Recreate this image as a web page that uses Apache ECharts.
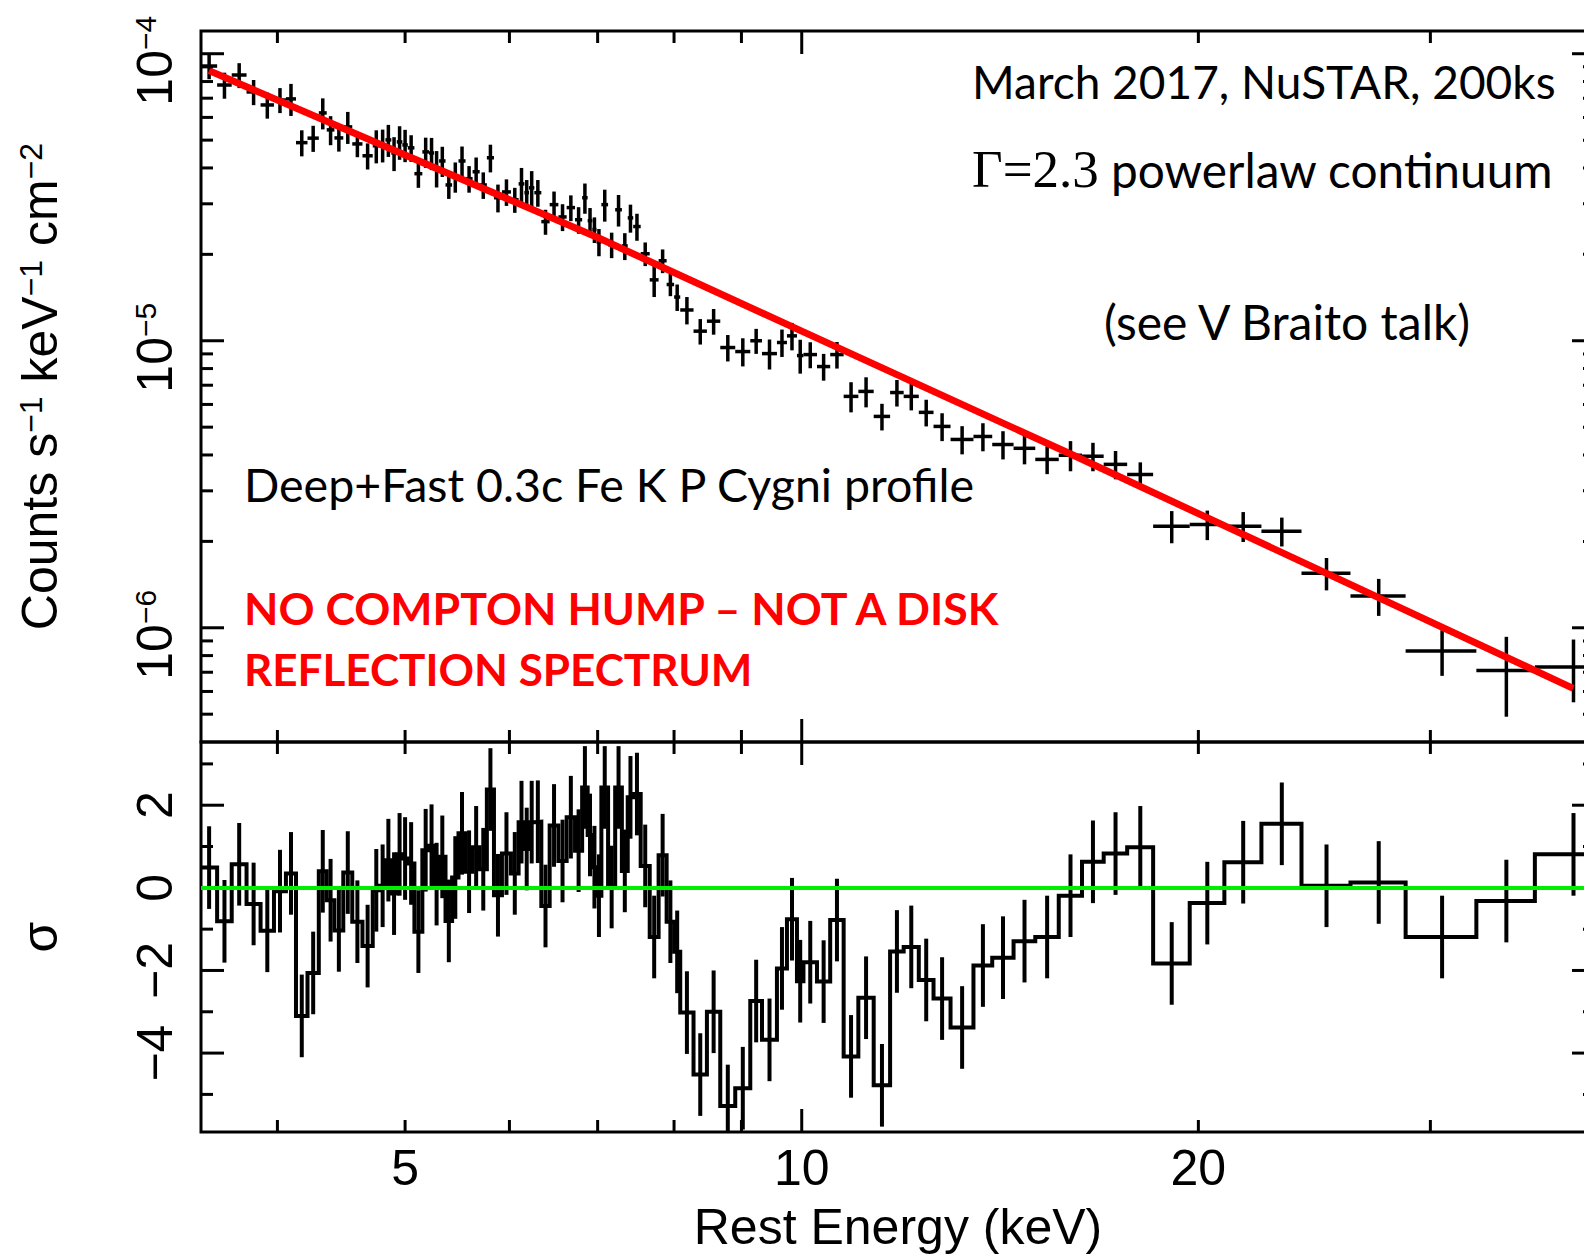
<!DOCTYPE html>
<html>
<head>
<meta charset="utf-8">
<script src="https://cdn.jsdelivr.net/npm/echarts@6/dist/echarts.min.js"></script>
<style>
html, body { margin: 0; padding: 0; background: #fff; }
#chart { width: 1584px; height: 1255px; }
</style>
</head>
<body>
<div id="chart"></div>
<script>
// spectrum bins (rest energy, keV) - edges shared by both panels
const binEdges = [
  3.50, 3.60, 3.693, 3.790, 3.884, 3.976, 4.060, 4.132, 4.216, 4.300,
  4.360, 4.419, 4.488, 4.559, 4.641, 4.725, 4.784, 4.831, 4.881, 4.928,
  4.976, 5.024, 5.082, 5.153, 5.213, 5.260, 5.306, 5.366, 5.428, 5.489,
  5.557, 5.626, 5.696, 5.768, 5.840, 5.922, 6.016, 6.097, 6.159, 6.209,
  6.267, 6.344, 6.437, 6.536, 6.631, 6.729, 6.813, 6.879, 6.936, 6.986,
  7.046, 7.129, 7.218, 7.303, 7.378, 7.449, 7.547, 7.667, 7.787, 7.897,
  8.001, 8.087, 8.277, 8.473, 8.673, 8.903, 9.140, 9.329, 9.576, 9.745,
  9.917, 10.03, 10.27, 10.51, 10.76, 11.04, 11.34, 11.67, 11.95, 12.27,
  12.59, 12.97, 13.50, 13.95, 14.48, 15.04, 15.67, 16.32, 16.95, 17.66,
  18.48, 19.70, 20.93, 22.33, 23.95, 26.09, 28.73, 32.51, 36.01, 41.04
];

// counts s^-1 keV^-1 cm^-2
const flux = [
  9.06e-5, 7.78e-5, 8.43e-5, 7.36e-5, 6.63e-5, 6.90e-5, 6.96e-5, 4.90e-5, 5.08e-5, 6.22e-5,
  5.43e-5, 5.09e-5, 5.56e-5, 4.85e-5, 4.41e-5, 4.78e-5, 4.81e-5, 5.01e-5, 4.51e-5, 4.93e-5,
  4.81e-5, 4.70e-5, 3.82e-5, 4.55e-5, 4.51e-5, 4.00e-5, 4.23e-5, 3.49e-5, 3.73e-5, 4.23e-5,
  3.67e-5, 3.88e-5, 3.49e-5, 4.34e-5, 3.15e-5, 3.30e-5, 3.10e-5, 3.52e-5, 3.28e-5, 3.41e-5,
  3.28e-5, 2.60e-5, 2.98e-5, 2.70e-5, 2.91e-5, 2.64e-5, 3.15e-5, 2.62e-5, 2.44e-5, 2.21e-5,
  2.98e-5, 2.16e-5, 2.86e-5, 2.14e-5, 2.68e-5, 2.50e-5, 2.01e-5, 1.63e-5, 1.90e-5, 1.57e-5,
  1.42e-5, 1.28e-5, 1.08e-5, 1.17e-5, 9.47e-6, 9.17e-6, 1.00e-5, 9.02e-6, 9.86e-6, 1.04e-5,
  8.88e-6, 8.95e-6, 8.13e-6, 8.95e-6, 6.40e-6, 6.66e-6, 5.45e-6, 6.60e-6, 6.40e-6, 5.63e-6,
  5.03e-6, 4.53e-6, 4.64e-6, 4.35e-6, 4.22e-6, 3.86e-6, 3.99e-6, 3.96e-6, 3.71e-6, 3.42e-6,
  2.26e-6, 2.29e-6, 2.26e-6, 2.17e-6, 1.55e-6, 1.29e-6, 8.3e-7, 7.1e-7, 7.3e-7
];

const fluxErr = [
  9.1e-6, 8.1e-6, 8.4e-6, 7.4e-6, 6.9e-6, 6.9e-6, 8.9e-6, 5.1e-6, 5.3e-6, 7.7e-6,
  6.3e-6, 5.3e-6, 7.1e-6, 4.9e-6, 4.6e-6, 6.3e-6, 6.3e-6, 6.4e-6, 6.1e-6, 6.6e-6,
  6.2e-6, 5.0e-6, 4.1e-6, 5.5e-6, 5.8e-6, 5.8e-6, 5.1e-6, 3.7e-6, 4.5e-6, 5.2e-6,
  3.9e-6, 4.7e-6, 3.7e-6, 4.8e-6, 3.5e-6, 3.5e-6, 3.1e-6, 4.8e-6, 3.5e-6, 4.9e-6,
  3.5e-6, 2.6e-6, 3.3e-6, 2.9e-6, 3.0e-6, 2.8e-6, 3.8e-6, 2.8e-6, 2.5e-6, 2.4e-6,
  3.8e-6, 2.2e-6, 3.6e-6, 2.3e-6, 3.0e-6, 2.7e-6, 1.9e-6, 2.1e-6, 1.8e-6, 1.4e-6,
  1.5e-6, 1.4e-6, 1.1e-6, 1.2e-6, 1.0e-6, 1.03e-6, 1.0e-6, 1.08e-6, 1.08e-6, 1.14e-6,
  1.2e-6, 9.3e-7, 8.7e-7, 9.5e-7, 7.7e-7, 8.0e-7, 5.8e-7, 7.0e-7, 6.8e-7, 6.0e-7,
  5.6e-7, 5.1e-7, 5.2e-7, 4.9e-7, 5.1e-7, 4.3e-7, 4.8e-7, 4.5e-7, 4.2e-7, 3.5e-7,
  2.9e-7, 2.7e-7, 2.7e-7, 2.5e-7, 2.0e-7, 1.9e-7, 1.5e-7, 2.2e-7, 1.8e-7
];

// residuals in sigma (error bars are +-1 sigma)
const resid = [
  0.49, -0.81, 0.57, -0.39, -1.04, -0.08, 0.35, -3.1, -2.06, 0.4,
  -0.3, -1.03, 0.37, -0.82, -1.41, -0.06, 0.05, 0.67, -0.14, 0.81,
  0.71, 0.59, -1.06, 0.91, 1.02, 0.09, 0.75, -0.8, 0.25, 1.32,
  0.39, 0.98, 0.45, 2.38, -0.18, 0.83, 0.35, 1.59, 0.94, 1.59,
  1.6, -0.44, 1.51, 0.65, 1.71, 0.9, 2.43, 1.28, 0.5, -0.19,
  2.43, 0.02, 2.43, 0.41, 2.19, 2.27, 0.53, -1.19, 0.79, -0.82,
  -1.55, -3.02, -4.52, -3.0, -5.28, -4.85, -2.74, -3.68, -1.95, -0.76,
  -2.26, -1.8, -2.27, -0.78, -4.08, -2.66, -4.78, -1.54, -1.43, -2.23,
  -2.68, -3.38, -1.88, -1.69, -1.29, -1.19, -0.19, 0.63, 0.83, 0.98,
  -1.83, -0.37, 0.62, 1.55, 0.05, 0.13, -1.19, -0.32, 0.81
];

// Gamma = 2.3 powerlaw continuum
const modelE = [3.55, 5, 7, 10, 16, 25, 38.5];
const modelFlux = [8.73e-5, 4.44e-5, 2.29e-5, 1.08e-5, 4.03e-6, 1.55e-6, 6.15e-7];

// axis ticks
const xMinorTicks = [4, 5, 6, 7, 8, 9, 20, 30];
const xMajorTicks = [10];
const xTickLabels = [5, 10, 20];
const yTopMajorTicks = [1e-6, 1e-5, 1e-4];
const yTopMinorTicks = [5e-7, 6e-7, 7e-7, 8e-7, 9e-7, 2e-6, 3e-6, 4e-6, 5e-6, 6e-6, 7e-6, 8e-6, 9e-6,
  2e-5, 3e-5, 4e-5, 5e-5, 6e-5, 7e-5, 8e-5, 9e-5];
const yResMajorTicks = [-4, -2, 0, 2];
const yResMinorTicks = [-5, -3, -1, 1, 3];

const FONT = "'Liberation Sans', Arial, Helvetica, sans-serif";
const NOTE_FONT = "Lato, 'Open Sans', sans-serif";
const MINOR = 12, MAJOR = 23;

function seg(x1, y1, x2, y2, color, w) {
  return { type: 'line', shape: { x1: x1, y1: y1, x2: x2, y2: y2 }, style: { stroke: color, lineWidth: w } };
}
function clamp(v, a, b) { return Math.min(Math.max(v, a), b); }

// tick marks on both sides of a grid
function xTicks(g, values, len, yRef) {
  return {
    type: 'custom', xAxisIndex: g, yAxisIndex: g, silent: true, z: 4,
    data: values.map(v => [v]), encode: { x: 0 },
    renderItem: function (params, api) {
      const cs = params.coordSys;
      const x = api.coord([api.value(0), yRef])[0];
      const b = cs.y + cs.height;
      return { type: 'group', children: [seg(x, b, x, b - len, '#000', 3), seg(x, cs.y, x, cs.y + len, '#000', 3)] };
    }
  };
}
function yTicks(g, values, len, xRef) {
  return {
    type: 'custom', xAxisIndex: g, yAxisIndex: g, silent: true, z: 4,
    data: values.map(v => [v]), encode: { y: 0 },
    renderItem: function (params, api) {
      const cs = params.coordSys;
      const y = api.coord([xRef, api.value(0)])[1];
      const r = cs.x + cs.width;
      return { type: 'group', children: [seg(cs.x, y, cs.x + len, y, '#000', 3), seg(r, y, r - len, y, '#000', 3)] };
    }
  };
}
function yLabels(g, values, xRef, fmt, shift) {
  return {
    type: 'custom', xAxisIndex: g, yAxisIndex: g, silent: true, z: 4,
    data: values.map(v => [v]), encode: { y: 0 },
    renderItem: function (params, api) {
      const cs = params.coordSys;
      const y = api.coord([xRef, api.value(0)])[1];
      return {
        type: 'text', x: cs.x - 46, y: y + shift, rotation: Math.PI / 2,
        style: {
          text: fmt(api.value(0)), fill: '#000', fontFamily: FONT, fontSize: 50,
          align: 'center', verticalAlign: 'middle',
          rich: { s: { fontFamily: FONT, fontSize: 30, verticalAlign: 'top', fill: '#000' } }
        }
      };
    }
  };
}

const crossData = flux.map((f, i) => [binEdges[i], binEdges[i + 1], f, fluxErr[i]]);
const residBars = resid.map((r, i) => [binEdges[i], binEdges[i + 1], r]);
const stepData = [];
resid.forEach((r, i) => { stepData.push([binEdges[i], r], [binEdges[i + 1], r]); });
const modelData = modelE.map((e, i) => [e, modelFlux[i]]);

const chart = echarts.init(document.getElementById('chart'), null, { renderer: 'svg' });

chart.setOption({
  animation: false,
  backgroundColor: '#fff',
  grid: [
    { left: 201, top: 31, width: 1394, height: 711, outerBoundsMode: 'none', containLabel: false, show: true, borderColor: '#000', borderWidth: 3, backgroundColor: 'transparent' },
    { left: 201, top: 742, width: 1394, height: 390, outerBoundsMode: 'none', containLabel: false, show: true, borderColor: '#000', borderWidth: 3, backgroundColor: 'transparent' }
  ],
  xAxis: [
    { type: 'log', gridIndex: 0, min: 3.5, max: 40, axisLine: { show: false }, axisTick: { show: false }, axisLabel: { show: false }, splitLine: { show: false } },
    {
      type: 'log', gridIndex: 1, min: 3.5, max: 40,
      name: 'Rest Energy (keV)', nameLocation: 'middle', nameGap: 70,
      nameTextStyle: { fontFamily: FONT, fontSize: 50, color: '#000' },
      axisLine: { show: false }, axisTick: { show: false }, axisLabel: { show: false }, splitLine: { show: false }
    }
  ],
  yAxis: [
    {
      type: 'log', gridIndex: 0, min: 4e-7, max: 1.2e-4,
      name: 'Counts s{s|−1} keV{s|−1} cm{s|−2}', nameLocation: 'middle', nameGap: 136,
      nameTextStyle: { fontFamily: FONT, fontSize: 50, color: '#000', rich: { s: { fontFamily: FONT, fontSize: 32, verticalAlign: 'top', color: '#000' } } },
      axisLine: { show: false }, axisTick: { show: false }, axisLabel: { show: false }, splitLine: { show: false }
    },
    {
      type: 'value', gridIndex: 1, min: -5.91, max: 3.53,
      name: 'σ', nameLocation: 'middle', nameGap: 136,
      nameTextStyle: { fontFamily: FONT, fontSize: 50, color: '#000' },
      axisLine: { show: false }, axisTick: { show: false }, axisLabel: { show: false }, splitLine: { show: false }
    }
  ],
  graphic: [
    { type: 'text', x: 972, y: 81, style: { text: 'March 2017, NuSTAR, 200ks', fill: '#000', fontFamily: NOTE_FONT, fontSize: 46, verticalAlign: 'middle' } },
    {
      type: 'text', x: 972, y: 169,
      style: {
        text: '{g|Γ=2.3} powerlaw continuum', fill: '#000', fontFamily: NOTE_FONT, fontSize: 47.8, verticalAlign: 'middle',
        rich: { g: { fontFamily: "'Liberation Serif', 'Times New Roman', serif", fontSize: 53, fill: '#000' } }
      }
    },
    { type: 'text', x: 1104, y: 321, style: { text: '(see V Braito talk)', fill: '#000', fontFamily: NOTE_FONT, fontSize: 48, verticalAlign: 'middle' } },
    { type: 'text', x: 244, y: 484, style: { text: 'Deep+Fast 0.3c Fe K P Cygni profile', fill: '#000', fontFamily: NOTE_FONT, fontSize: 46.5, verticalAlign: 'middle' } },
    { type: 'text', x: 244, y: 608, style: { text: 'NO COMPTON HUMP – NOT A DISK', fill: '#ff0000', fontFamily: NOTE_FONT, fontWeight: 'bold', fontSize: 44.7, verticalAlign: 'middle' } },
    { type: 'text', x: 244, y: 669, style: { text: 'REFLECTION SPECTRUM', fill: '#ff0000', fontFamily: NOTE_FONT, fontWeight: 'bold', fontSize: 44, verticalAlign: 'middle' } }
  ],
  series: [
    {
      name: 'data', type: 'custom', xAxisIndex: 0, yAxisIndex: 0, z: 2,
      data: crossData, encode: { x: [0, 1], y: 2 },
      renderItem: function (params, api) {
        const cs = params.coordSys;
        const lo = api.value(0), hi = api.value(1), f = api.value(2), e = api.value(3);
        const mid = (lo + hi) / 2;
        const a = api.coord([lo, f]), b = api.coord([hi, f]);
        const t = api.coord([mid, f + e]), d = api.coord([mid, f - e]);
        const x0 = cs.x, x1 = cs.x + cs.width;
        return {
          type: 'group', children: [
            seg(clamp(a[0], x0, x1), a[1], clamp(b[0], x0, x1), b[1], '#000', 3.5),
            seg(t[0], clamp(t[1], cs.y, cs.y + cs.height), d[0], clamp(d[1], cs.y, cs.y + cs.height), '#000', 3.5)
          ]
        };
      }
    },
    {
      name: 'model', type: 'line', xAxisIndex: 0, yAxisIndex: 0, z: 3,
      data: modelData, symbol: 'none', silent: true,
      lineStyle: { color: '#ff0000', width: 7 }
    },
    {
      name: 'resid', type: 'line', xAxisIndex: 1, yAxisIndex: 1, z: 2,
      data: stepData, symbol: 'none', silent: true,
      lineStyle: { color: '#000', width: 4, join: 'miter' },
      markLine: {
        silent: true, symbol: 'none', label: { show: false },
        lineStyle: { color: '#00ee00', width: 4, type: 'solid' },
        data: [{ yAxis: 0 }]
      }
    },
    {
      name: 'residErr', type: 'custom', xAxisIndex: 1, yAxisIndex: 1, z: 2,
      data: residBars, encode: { x: [0, 1], y: 2 },
      renderItem: function (params, api) {
        const cs = params.coordSys;
        const mid = (api.value(0) + api.value(1)) / 2, r = api.value(2);
        const t = api.coord([mid, r + 1]), d = api.coord([mid, r - 1]);
        return seg(t[0], clamp(t[1], cs.y, cs.y + cs.height), d[0], clamp(d[1], cs.y, cs.y + cs.height), '#000', 4);
      }
    },
    xTicks(0, xMinorTicks, MINOR, 1e-5),
    xTicks(0, xMajorTicks, MAJOR, 1e-5),
    xTicks(1, xMinorTicks, MINOR, 0),
    xTicks(1, xMajorTicks, MAJOR, 0),
    yTicks(0, yTopMinorTicks, MINOR, 10),
    yTicks(0, yTopMajorTicks, MAJOR, 10),
    yTicks(1, yResMinorTicks, MINOR, 10),
    yTicks(1, yResMajorTicks, MAJOR, 10),
    yLabels(0, yTopMajorTicks, 10, v => '10{s|−' + Math.round(-Math.log10(v)) + '}', 7),
    yLabels(1, yResMajorTicks, 10, v => (v < 0 ? '−' + (-v) : String(v)), 0),
    {
      type: 'custom', xAxisIndex: 1, yAxisIndex: 1, silent: true, z: 4,
      data: xTickLabels.map(v => [v]), encode: { x: 0 },
      renderItem: function (params, api) {
        const cs = params.coordSys;
        const x = api.coord([api.value(0), 0])[0];
        return {
          type: 'text', x: x, y: cs.y + cs.height + 36,
          style: { text: String(api.value(0)), fill: '#000', fontFamily: FONT, fontSize: 50, align: 'center', verticalAlign: 'middle' }
        };
      }
    }
  ]
});
window.addEventListener('resize', () => chart.resize());
</script>
</body>
</html>
